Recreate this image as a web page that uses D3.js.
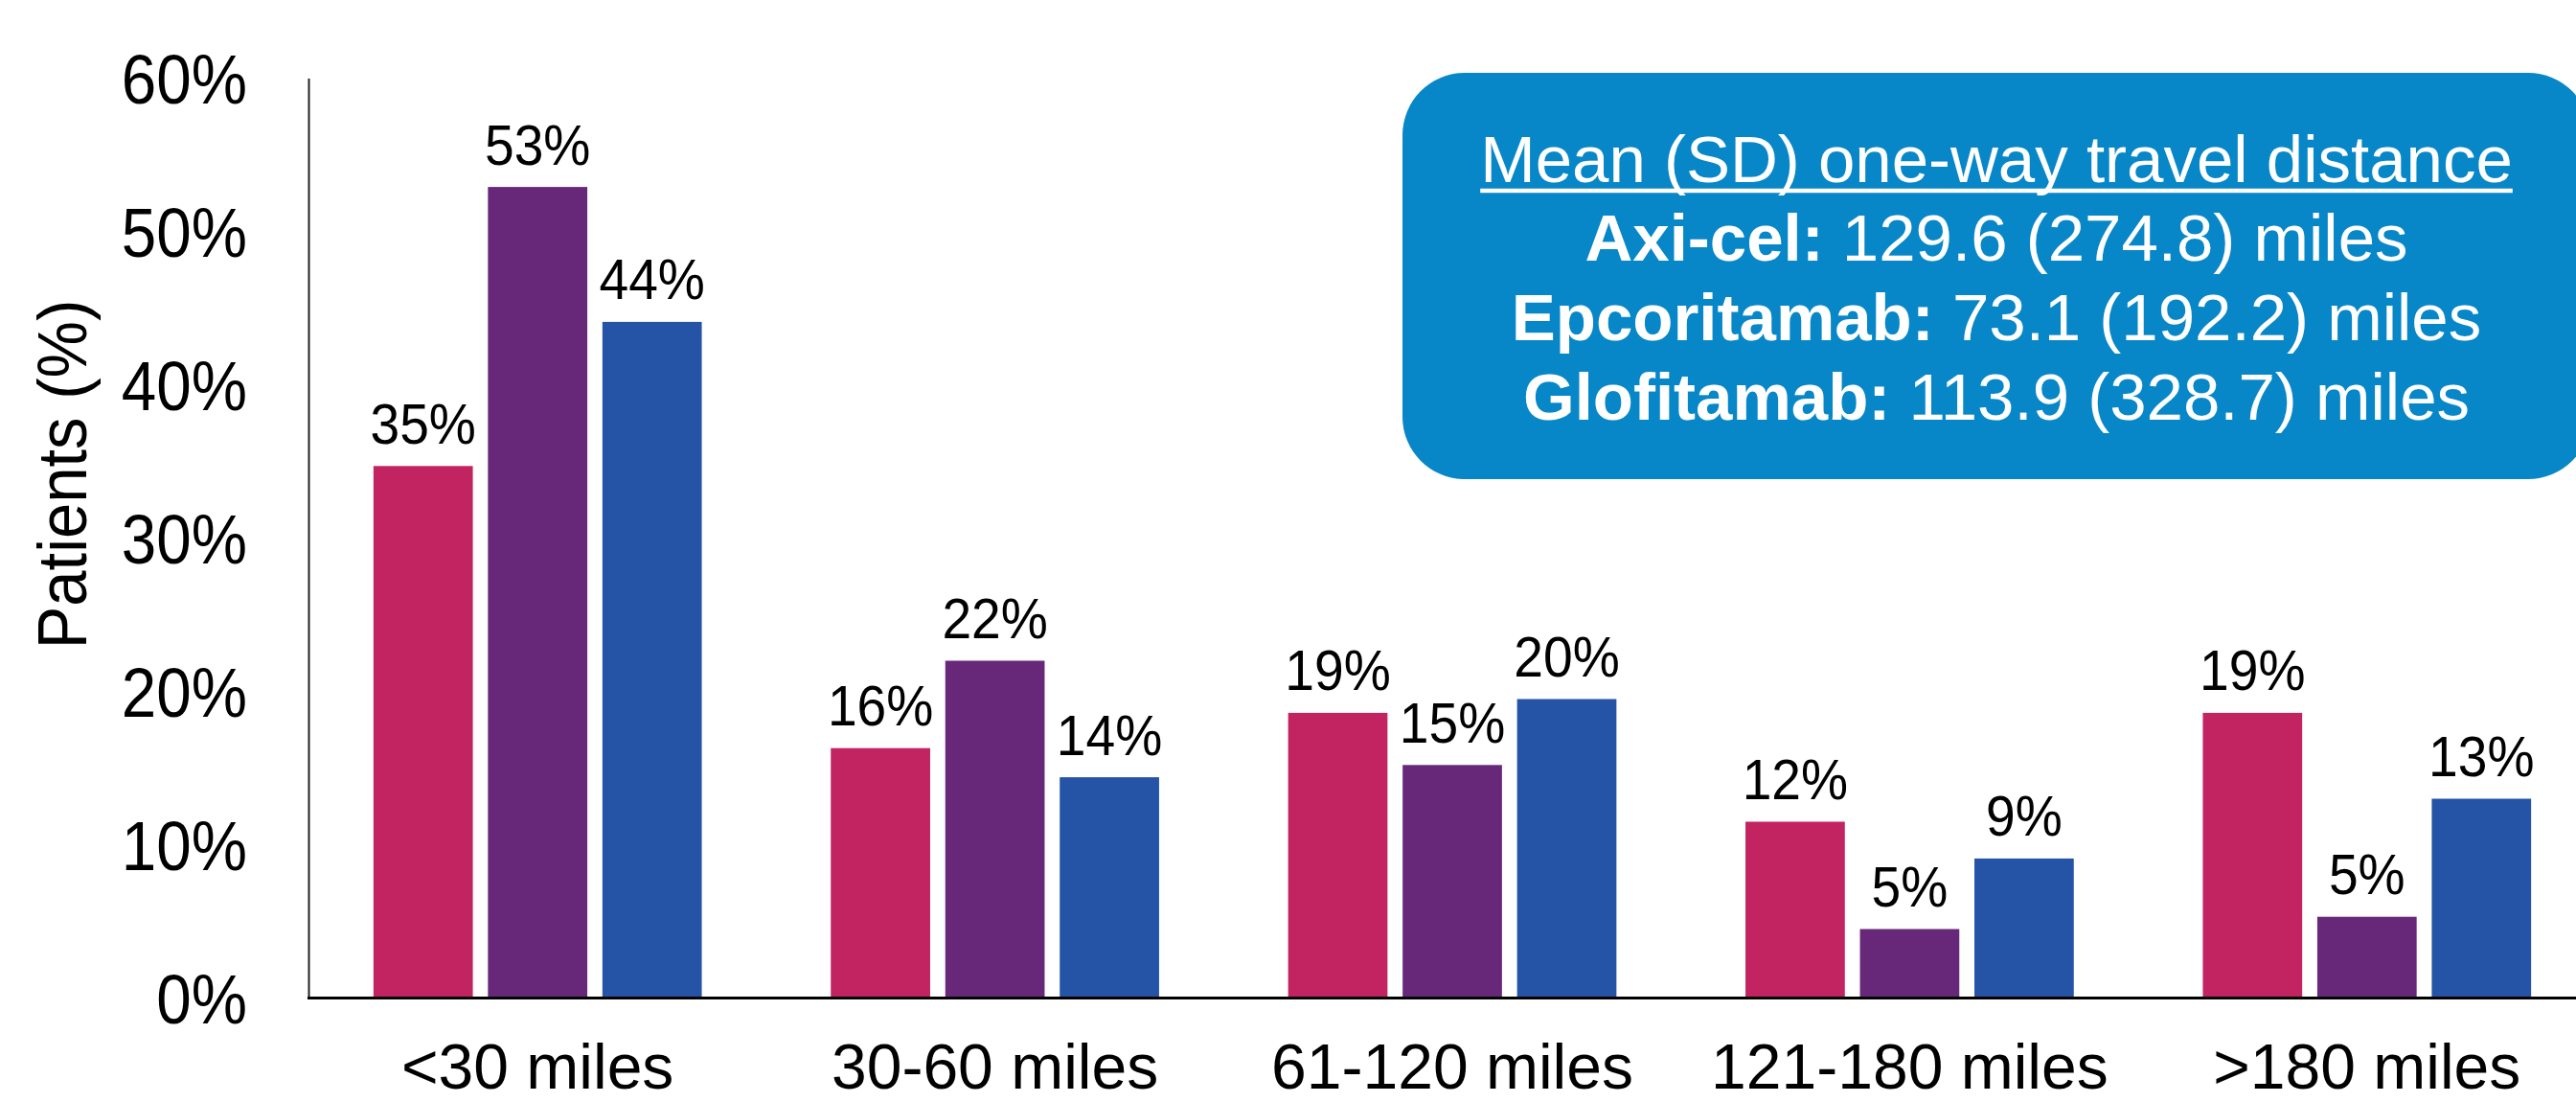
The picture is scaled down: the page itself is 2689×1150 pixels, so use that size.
<!DOCTYPE html>
<html>
<head>
<meta charset="utf-8">
<script src="https://cdn.jsdelivr.net/npm/d3@7"></script>
<style>
  html, body { margin: 0; padding: 0; background: #ffffff; }
  svg { display: block; }
  text { font-family: "Liberation Sans", Arial, Helvetica, sans-serif; }
</style>
</head>
<body>
<svg id="chart" width="2689" height="1150"></svg>
<script>
// ---------------- data ----------------
const categories = ["<30 miles", "30-60 miles", "61-120 miles", "121-180 miles", ">180 miles"];
const seriesNames = ["Axi-cel", "Epcoritamab", "Glofitamab"];
const axiCelValues = [34.7, 16.3, 18.6, 11.5, 18.6];
const epcoritamabValues = [52.9, 22.0, 15.2, 4.5, 5.3];
const glofitamabValues = [44.1, 14.4, 19.5, 9.1, 13.0];
const axiCelLabels = ["35%", "16%", "19%", "12%", "19%"];
const epcoritamabLabels = ["53%", "22%", "15%", "5%", "5%"];
const glofitamabLabels = ["44%", "14%", "20%", "9%", "13%"];
const yTickValues = [0, 10, 20, 30, 40, 50, 60];
const yTickLabels = ["0%", "10%", "20%", "30%", "40%", "50%", "60%"];
const yAxisTitle = "Patients (%)";
const boxTitle = "Mean (SD) one-way travel distance";
const boxBold = ["Axi-cel:", "Epcoritamab:", "Glofitamab:"];
const boxRest = [" 129.6 (274.8) miles", " 73.1 (192.2) miles", " 113.9 (328.7) miles"];

// ---------------- build ----------------
const seriesValues = [axiCelValues, epcoritamabValues, glofitamabValues];
const seriesLabels = [axiCelLabels, epcoritamabLabels, glofitamabLabels];
const colors = ["#c22462", "#68287a", "#2553a6"];

const rows = [];
categories.forEach((c, ci) => {
  seriesNames.forEach((s, si) => {
    rows.push({ cat: c, series: s, si: si, value: seriesValues[si][ci], label: seriesLabels[si][ci] });
  });
});

const svg = d3.select("#chart");
const W = 2689, H = 1150;
svg.append("rect").attr("width", W).attr("height", H).attr("fill", "#ffffff");

const axisX = 322;
const baseY = 1041.5;
const y = d3.scaleLinear().domain([0, 60]).range([baseY, 81.5]);
const x0 = d3.scaleBand().domain(categories).range([322.5, 322.5 + 5 * 477.4]).paddingInner(0).paddingOuter(0);
const x1 = d3.scaleBand().domain(seriesNames).range([-171.35, 171.35]).paddingInner(0.132).paddingOuter(0);

const cx = d => x0(d.cat) + x0.bandwidth() / 2;

// bars
svg.append("g").selectAll("rect.bar").data(rows).join("rect")
  .attr("class", "bar")
  .attr("x", d => cx(d) + x1(d.series))
  .attr("width", x1.bandwidth())
  .attr("y", d => y(d.value))
  .attr("height", d => baseY - y(d.value))
  .attr("fill", d => colors[d.si]);

// data labels
svg.append("g").selectAll("text.lbl").data(rows).join("text")
  .attr("class", "lbl")
  .attr("transform", d => `translate(${cx(d) + x1(d.series) + x1.bandwidth() / 2},${y(d.value) - 23.5}) scale(0.92,1)`)
  .attr("text-anchor", "middle")
  .attr("font-size", 60)
  .attr("fill", "#000")
  .text(d => d.label);

// y axis
const yAxis = d3.axisLeft(y).tickValues(yTickValues).tickSize(0).tickSizeOuter(0)
  .tickFormat((d, i) => yTickLabels[i]);
const gy = svg.append("g").attr("transform", `translate(${axisX},0)`).call(yAxis);
gy.select(".domain").attr("stroke", "#222").attr("stroke-width", 2);
gy.selectAll(".tick text")
  .attr("font-size", 72)
  .attr("font-family", "Liberation Sans, Arial, sans-serif")
  .attr("fill", "#000")
  .attr("x", null).attr("dy", null)
  .attr("text-anchor", "end")
  .attr("transform", "translate(-64,26) scale(0.91,1)");

// x axis
const xAxis = d3.axisBottom(x0).tickSize(0).tickSizeOuter(0);
const gx = svg.append("g").attr("transform", `translate(0,${baseY})`).call(xAxis);
gx.select(".domain").attr("stroke", "#000").attr("stroke-width", 3)
  .attr("d", `M${axisX - 1},0H${W + 40}`);
gx.selectAll(".tick text")
  .attr("font-size", 66)
  .attr("font-family", "Liberation Sans, Arial, sans-serif")
  .attr("fill", "#000")
  .attr("y", 94).attr("dy", null);

// y axis title
svg.append("text")
  .attr("transform", "translate(90,495) rotate(-90) scale(0.93,1)")
  .attr("text-anchor", "middle")
  .attr("font-size", 72)
  .attr("fill", "#000")
  .text(yAxisTitle);

// info box
const box = svg.append("g");
box.append("rect")
  .attr("x", 1464).attr("y", 76)
  .attr("width", 1240).attr("height", 424)
  .attr("rx", 65).attr("ry", 65)
  .attr("fill", "#0787c7");

const boxCx = 2084;
const t0 = box.append("text")
  .attr("x", boxCx).attr("y", 190)
  .attr("text-anchor", "middle")
  .attr("font-size", 69)
  .attr("fill", "#fff")
  .text(boxTitle);
const tw = t0.node().getComputedTextLength();
box.append("line")
  .attr("x1", boxCx - tw / 2).attr("x2", boxCx + tw / 2)
  .attr("y1", 199).attr("y2", 199)
  .attr("stroke", "#fff").attr("stroke-width", 4.5);

const lineYs = [272, 355, 438];
boxBold.forEach((b, i) => {
  const t = box.append("text")
    .attr("x", boxCx).attr("y", lineYs[i])
    .attr("text-anchor", "middle")
    .attr("font-size", 69)
    .attr("fill", "#fff");
  t.append("tspan").attr("font-weight", "bold").text(b);
  t.append("tspan").text(boxRest[i]);
});
</script>
</body>
</html>
